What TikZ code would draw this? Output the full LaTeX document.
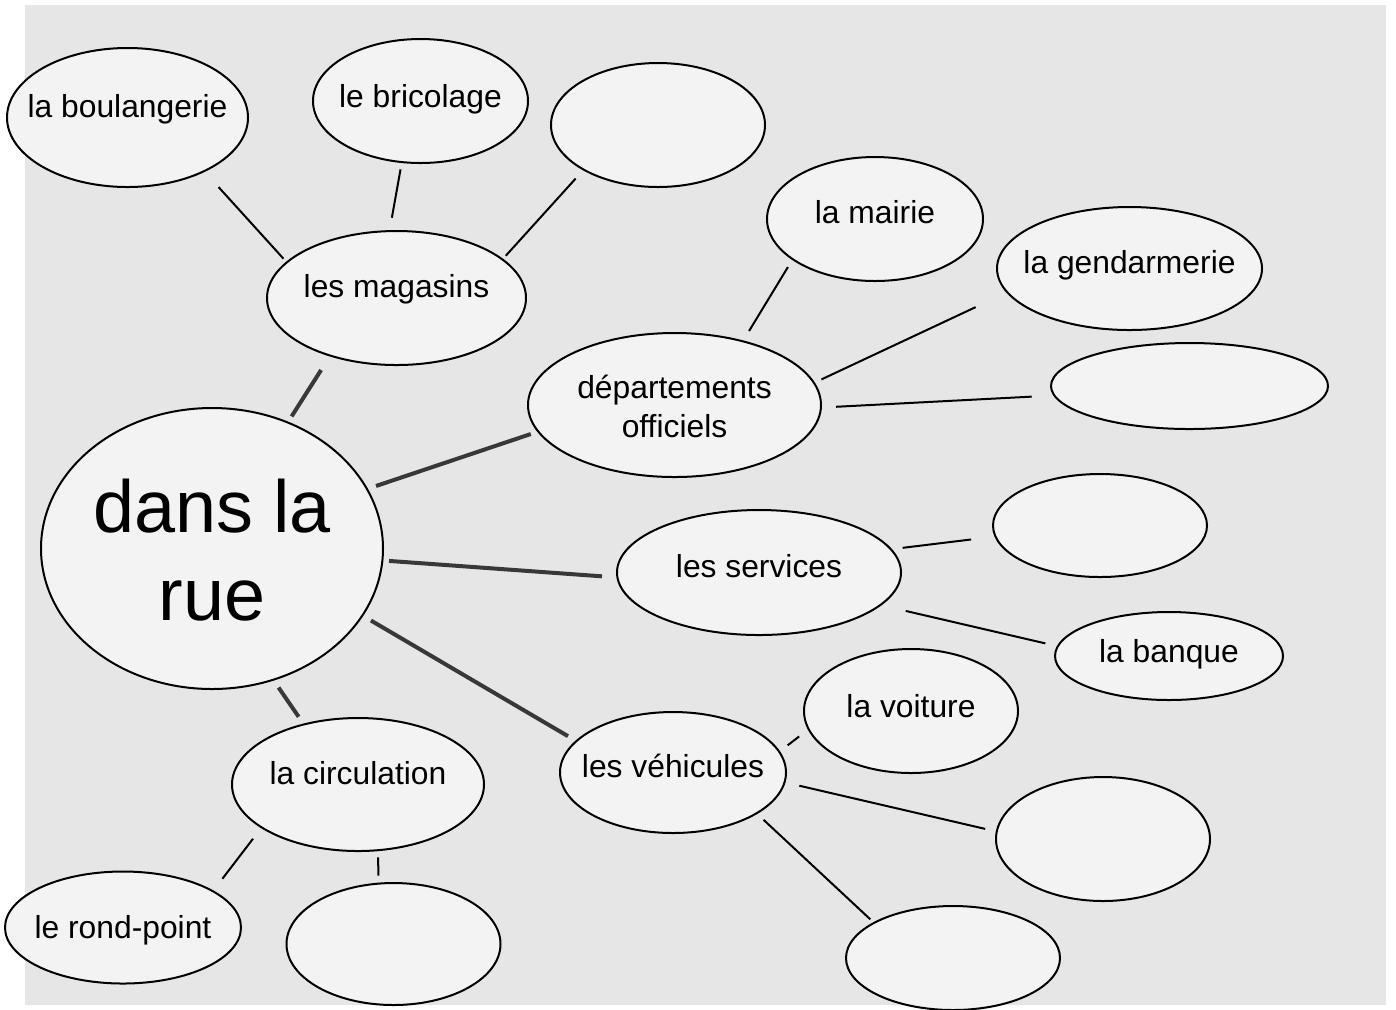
\documentclass[tikz,border=0pt]{standalone}
\usepackage{fontspec}
\setmainfont{Liberation Sans}
\usepackage{xcolor}
\usetikzlibrary{shapes.geometric}
\definecolor{sheet}{HTML}{E6E6E6}
\definecolor{bubblefill}{HTML}{F3F3F3}
\definecolor{spokegray}{HTML}{383838}
\tikzset{
	bubble/.style={draw=black,line width=1pt,fill=bubblefill,ellipse,inner sep=0pt,outer sep=0pt},
	word/.style={font=\fontsize{15.9}{19}\selectfont,anchor=base,inner sep=0pt},
	bigword/.style={font=\fontsize{36.9}{44}\selectfont,anchor=base,inner sep=0pt},
	spoke/.style={draw=spokegray,line width=2pt},
	twig/.style={draw=black,line width=1pt}
}

\begin{document}
\begin{tikzpicture}[x=0.5pt,y=-0.5pt]
	\useasboundingbox (0,0) rectangle (1396,1009);
	\fill[sheet] (25,5) rectangle (1386,1005);
	% centre
	\node[bubble,minimum width=171pt,minimum height=140.5pt] (rue) at (212,548.5) {};
	\node[bigword] (ruetop) at (212,532) {dans la};
	\node[bigword] (ruebot) at (212,620) {rue};
	% magasins
	\node[bubble,minimum width=129.5pt,minimum height=67pt] (mag) at (396.5,298) {};
	\node[word] (magtext) at (396.5,297) {les magasins};
	\node[bubble,minimum width=120.5pt,minimum height=69.5pt] (boul) at (127.5,117.5) {};
	\node[word] (boultext) at (127.5,117) {la boulangerie};
	\node[bubble,minimum width=107.5pt,minimum height=62pt] (bric) at (420.5,101) {};
	\node[word] (brictext) at (420.5,107) {le bricolage};
	\node[bubble,minimum width=107pt,minimum height=62pt] (eshop) at (658,125) {};
	% departements
	\node[bubble,minimum width=146.5pt,minimum height=72pt] (dept) at (674.5,405) {};
	\node[word] (depttop) at (674.5,398) {départements};
	\node[word] (deptbot) at (674.5,437) {officiels};
	\node[bubble,minimum width=108pt,minimum height=62pt] (mairie) at (875,219) {};
	\node[word] (mairietext) at (875,223) {la mairie};
	\node[bubble,minimum width=132.5pt,minimum height=61.5pt] (gend) at (1129.5,268.5) {};
	\node[word] (gendtext) at (1129.5,273) {la gendarmerie};
	\node[bubble,minimum width=138.5pt,minimum height=43pt] (eoffice) at (1189.5,386) {};
	% services
	\node[bubble,minimum width=142pt,minimum height=62.5pt] (serv) at (759,572.5) {};
	\node[word] (servtext) at (759,577) {les services};
	\node[bubble,minimum width=107pt,minimum height=51.5pt] (eserv) at (1100,525.5) {};
	\node[bubble,minimum width=114pt,minimum height=44pt] (banque) at (1169,656) {};
	\node[word] (banquetext) at (1169,662) {la banque};
	% vehicules
	\node[bubble,minimum width=113pt,minimum height=60.5pt] (vehic) at (673,772.5) {};
	\node[word] (vehictext) at (673,777) {les véhicules};
	\node[bubble,minimum width=107pt,minimum height=62pt] (voiture) at (911,711) {};
	\node[word] (voituretext) at (911,717) {la voiture};
	\node[bubble,minimum width=107pt,minimum height=62pt] (evehA) at (1103,839) {};
	\node[bubble,minimum width=107pt,minimum height=52pt] (evehB) at (953,958) {};
	% circulation
	\node[bubble,minimum width=126pt,minimum height=66.5pt] (circ) at (358,784.5) {};
	\node[word] (circtext) at (358,784) {la circulation};
	\node[bubble,minimum width=118pt,minimum height=56pt] (rond) at (123,927.5) {};
	\node[word] (rondtext) at (123,938) {le rond-point};
	\node[bubble,minimum width=107pt,minimum height=61pt] (ecirc) at (393.5,944) {};
	% spokes
	\draw[spoke,shorten <=3.65pt,shorten >=8.55pt] (rue.59.8) -- (mag.221.7);
	\draw[spoke,shorten <=4.8pt,shorten >=3.95pt] (rue.21.7) -- (dept.191.5);
	\draw[spoke,shorten <=3.35pt,shorten >=7.75pt] (rue.-4.2) -- (serv.182.1);
	\draw[spoke,shorten <=5pt,shorten >=4.9pt] (rue.-24.2) -- (vehic.162.6);
	\draw[spoke,shorten <=4.75pt,shorten >=4.65pt] (rue.-65.4) -- (circ.132.4);
	% twigs
	\draw[twig,shorten <=10.75pt,shorten >=2.5pt] (boul.-35) -- (mag.162.9);
	\draw[twig,shorten <=3.7pt,shorten >=6.8pt] (bric.253.2) -- (mag.96.2);
	\draw[twig,shorten <=6pt,shorten >=2.5pt] (eshop.211.7) -- (mag.20.1);
	\draw[twig,shorten <=4.6pt,shorten >=6.05pt] (mairie.206.4) -- (dept.43.9);
	\draw[twig,shorten <=17.5pt,shorten >=4.1pt] (gend.191.7) -- (dept.9.2);
	\draw[twig,shorten <=11.35pt,shorten >=7.6pt] (eoffice.184) -- (dept.-1.4);
	\draw[twig,shorten <=5.95pt,shorten >=12.3pt] (serv.10.35) -- (eserv.186.5);
	\draw[twig,shorten <=13.05pt,shorten >=6.4pt] (serv.-15.5) -- (banque.175.3);
	\draw[twig,shorten <=5.35pt,shorten >=6pt] (vehic.11.85) -- (voiture.190.1);
	\draw[twig,shorten <=7.6pt,shorten >=5.95pt] (vehic.-5.5) -- (evehA.176.6);
	\draw[twig,shorten <=4.8pt,shorten >=2.6pt] (vehic.-26.2) -- (evehB.156.8);
	\draw[twig,shorten <=7.15pt,shorten >=7.85pt] (circ.204.8) -- (rond.22.6);
	\draw[twig,shorten <=3.55pt,shorten >=3.97pt] (circ.-73.1) -- (ecirc.104.4);
\end{tikzpicture}
\end{document}
